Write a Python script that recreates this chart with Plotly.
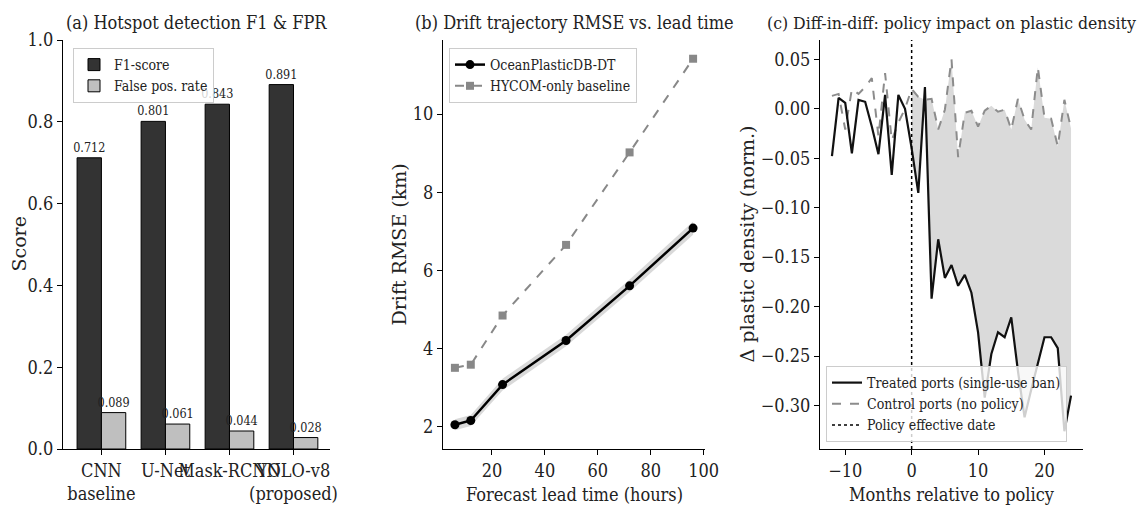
import plotly.graph_objects as go

# ---------------- data ----------------
# (a) hotspot detection
models = ["CNN<br>baseline", "U-Net", "Mask-RCNN", "YOLO-v8<br>(proposed)"]
f1_scores = [0.712, 0.801, 0.843, 0.891]
fpr_values = [0.089, 0.061, 0.044, 0.028]

# (b) drift RMSE vs lead time
lead_hours = [6, 12, 24, 48, 72, 96]
rmse_dt = [2.04, 2.15, 3.07, 4.20, 5.60, 7.08]
rmse_dt_ci = [0.14, 0.14, 0.15, 0.15, 0.16, 0.17]
rmse_hycom = [3.50, 3.58, 4.84, 6.65, 9.02, 11.42]

# (c) diff-in-diff
months = list(range(-12, 25))
treated = [-0.048, 0.011, 0.006, -0.045, 0.009, 0.007, -0.018, -0.046, 0.014, -0.067, 0.014, 0.000,
           -0.040, -0.085, 0.022, -0.192, -0.132, -0.171, -0.158, -0.179, -0.168, -0.186, -0.226,
           -0.292, -0.248, -0.226, -0.231, -0.211, -0.265, -0.312, -0.284, -0.257, -0.231, -0.231,
           -0.242, -0.326, -0.290]
control = [0.013, 0.015, -0.021, 0.020, 0.015, 0.022, 0.031, -0.028, 0.036, -0.032, -0.014, 0.000,
           0.020, 0.012, 0.009, 0.010, -0.021, -0.001, 0.050, -0.049, -0.004, -0.002, -0.018,
           -0.002, 0.003, -0.003, -0.001, -0.021, 0.010, -0.011, -0.021, 0.042, -0.009, -0.010,
           -0.038, 0.009, -0.020]
policy_month = 0

FONT = "DejaVu Serif Condensed, DejaVu Serif, serif"
FONT_WIDE = "DejaVu Serif, serif"
TXT = "#222222"
W, H = 1141, 506

fig = go.Figure()

# ---- (a) bars ----
fig.add_trace(go.Bar(x=models, y=f1_scores, name="F1-score",
                     marker=dict(color="#333333", line=dict(color="black", width=1)),
                     texttemplate="%{y:.3f}", textposition="outside", constraintext="none",
                     textfont=dict(size=12.5, color=TXT, family=FONT),
                     cliponaxis=False, xaxis="x", yaxis="y", legend="legend"))
fig.add_trace(go.Bar(x=models, y=fpr_values, name="False pos. rate",
                     marker=dict(color="#bfbfbf", line=dict(color="black", width=1)),
                     texttemplate="%{y:.3f}", textposition="outside", constraintext="none",
                     textfont=dict(size=12.5, color=TXT, family=FONT),
                     cliponaxis=False, xaxis="x", yaxis="y", legend="legend"))

# ---- (b) lines ----
upper = [m + c for m, c in zip(rmse_dt, rmse_dt_ci)]
lower = [m - c for m, c in zip(rmse_dt, rmse_dt_ci)]
fig.add_trace(go.Scatter(x=lead_hours + lead_hours[::-1], y=upper + lower[::-1], mode="lines", fill="toself",
                         fillcolor="rgba(128,128,128,0.3)", line=dict(width=0), hoverinfo="skip",
                         showlegend=False, xaxis="x2", yaxis="y2"))
fig.add_trace(go.Scatter(x=lead_hours, y=rmse_hycom, mode="lines+markers", name="HYCOM-only baseline",
                         line=dict(color="#888888", width=2, dash="dash"),
                         marker=dict(symbol="square", size=8, color="#888888"),
                         xaxis="x2", yaxis="y2", legend="legend2", legendrank=2))
fig.add_trace(go.Scatter(x=lead_hours, y=rmse_dt, mode="lines+markers", name="OceanPlasticDB-DT",
                         line=dict(color="black", width=2.5),
                         marker=dict(symbol="circle", size=9, color="black"),
                         xaxis="x2", yaxis="y2", legend="legend2", legendrank=1))

# ---- (c) diff-in-diff ----
post = [i for i, m in enumerate(months) if m >= policy_month]
mx = [months[i] for i in post]
ty = [treated[i] for i in post]
cy = [control[i] for i in post]
fig.add_trace(go.Scatter(x=mx + mx[::-1], y=ty + cy[::-1], mode="lines", fill="toself",
                         fillcolor="rgb(218,218,218)", line=dict(width=0), hoverinfo="skip",
                         showlegend=False, xaxis="x3", yaxis="y3"))
fig.add_trace(go.Scatter(x=months, y=control, mode="lines", name="Control ports (no policy)",
                         line=dict(color="#8c8c8c", width=2, dash="dash"), xaxis="x3", yaxis="y3",
                         legend="legend3", legendrank=2))
fig.add_trace(go.Scatter(x=months, y=treated, mode="lines", name="Treated ports (single-use ban)",
                         line=dict(color="#111111", width=2.2), xaxis="x3", yaxis="y3",
                         legend="legend3", legendrank=1))
fig.add_trace(go.Scatter(x=[None], y=[None], mode="lines", name="Policy effective date",
                         line=dict(color="black", width=1.5, dash="dot"), xaxis="x3", yaxis="y3",
                         legend="legend3", legendrank=3))
fig.add_shape(type="line", xref="x3", yref="y3 domain", x0=policy_month, x1=policy_month, y0=0, y1=1,
              line=dict(color="black", width=1.5, dash="dot"))

# ---------------- layout ----------------
ydom = [1 - 449 / H, 1 - 40 / H]
dom_a = [63 / W, 330 / W]
dom_b = [443 / W, 705 / W]
dom_c = [820 / W, 1083 / W]

axis_common = dict(showline=True, linecolor="black", linewidth=1.2, ticks="outside", ticklen=5, tickwidth=1.2,
                   tickcolor="black", showgrid=False, zeroline=False, automargin=False, tickangle=0,
                   tickfont=dict(size=18, color=TXT, family=FONT))

legend_common = dict(bgcolor="rgba(255,255,255,0.8)", bordercolor="#cccccc", borderwidth=1,
                     font=dict(size=14, color=TXT, family=FONT), itemwidth=30, tracegroupgap=0,
                     traceorder="normal")

fig.update_layout(
    template="none",
    width=W, height=H, margin=dict(l=0, r=0, t=0, b=0, pad=0), plot_bgcolor="white", paper_bgcolor="white",
    font=dict(family=FONT, color=TXT),
    barmode="group", bargap=0.24, bargroupgap=0,
    xaxis=dict(domain=dom_a, anchor="y", range=[-0.6, 3.57], **axis_common),
    yaxis=dict(domain=ydom, anchor="x", range=[0, 1.0], tickvals=[0, 0.2, 0.4, 0.6, 0.8, 1.0], tickformat=".1f",
               **axis_common),
    xaxis2=dict(domain=dom_b, anchor="y2", range=[1.5, 100.5], tickvals=[20, 40, 60, 80, 100], **axis_common),
    yaxis2=dict(domain=ydom, anchor="x2", range=[1.42, 11.9], tickvals=[2, 4, 6, 8, 10], **axis_common),
    xaxis3=dict(domain=dom_c, anchor="y3", range=[-13.8, 25.8], tickvals=[-10, 0, 10, 20], **axis_common),
    yaxis3=dict(domain=ydom, anchor="x3", range=[-0.344, 0.0695],
                tickvals=[0.05, 0.0, -0.05, -0.10, -0.15, -0.20, -0.25, -0.30], tickformat=".2f", **axis_common),
    legend=dict(x=73 / W, y=1 - 48 / H, xanchor="left", yanchor="top", **legend_common),
    legend2=dict(x=449 / W, y=1 - 48 / H, xanchor="left", yanchor="top", **legend_common),
    legend3=dict(x=826 / W, y=1 - 442 / H, xanchor="left", yanchor="bottom", **legend_common),
)

# titles
titles = [("(a) Hotspot detection F1 & FPR", dom_a, 18), ("(b) Drift trajectory RMSE vs. lead time", dom_b, 18),
          ("(c) Diff-in-diff: policy impact on plastic density", dom_c, 17.5)]
for txt, dom, fs in titles:
    fig.add_annotation(text=txt, x=(dom[0] + dom[1]) / 2, y=ydom[1], xref="paper", yref="paper",
                       xanchor="center", yanchor="bottom", yshift=5, showarrow=False,
                       font=dict(size=fs, color=TXT, family=FONT))

# axis titles
ymid = (ydom[0] + ydom[1]) / 2
for txt, xpx in [("Score", 18), ("Drift RMSE (km)", 398), ("Δ plastic density (norm.)", 746)]:
    fig.add_annotation(text=txt, x=xpx / W, y=ymid, xref="paper", yref="paper", textangle=-90,
                       xanchor="center", yanchor="middle",
                       showarrow=False, font=dict(size=19, color=TXT, family=FONT_WIDE))
for txt, dom in [("Forecast lead time (hours)", dom_b), ("Months relative to policy", dom_c)]:
    fig.add_annotation(text=txt, x=(dom[0] + dom[1]) / 2, y=1 - 494 / H, xref="paper", yref="paper",
                       xanchor="center", yanchor="middle",
                       showarrow=False, font=dict(size=18, color=TXT, family=FONT))

fig.write_html("out.html", config={"displayModeBar": False},
               post_script="document.body.style.margin='0';document.body.style.overflow='hidden';")
